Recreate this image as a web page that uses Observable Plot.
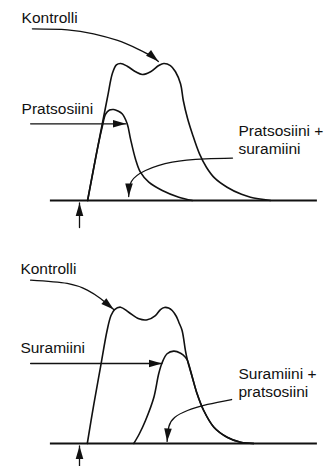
<!DOCTYPE html>
<html>
<head>
<meta charset="utf-8">
<script src="https://cdn.jsdelivr.net/npm/d3@7"></script>
<script src="https://cdn.jsdelivr.net/npm/@observablehq/plot@0.6"></script>
<style>
  body { margin: 0; background: #fff; }
  #chart svg { display: block; }
</style>
</head>
<body>
<div id="chart"></div>
<script>
// Time in arbitrary units, stimulus given at t = 0 (the small upward arrow).
// Response normalised so that the control peak equals 1.

// --- Upper panel: prazosin first ---
const topControlT = [0.27, 0.6, 0.93, 1.1, 1.23, 1.37, 1.59, 1.87, 2.09, 2.37, 2.64, 2.81, 3.03, 3.2, 3.37, 3.46, 3.6, 3.76, 4.0, 4.23, 4.5, 4.92, 5.4, 5.7, 6.37];
const topControlV = [0, 0.38, 0.75, 0.93, 0.99, 1.0, 0.98, 0.94, 0.92, 0.94, 0.985, 1.0, 0.985, 0.94, 0.85, 0.73, 0.6, 0.487, 0.34, 0.243, 0.165, 0.097, 0.045, 0.024, 0];
const topPrazosinT = [0.27, 0.6, 0.75, 0.87, 1.0, 1.14, 1.28, 1.42, 1.59, 1.7, 1.87, 2.03, 2.31, 2.76, 3.31, 3.76];
const topPrazosinV = [0, 0.38, 0.53, 0.63, 0.66, 0.664, 0.653, 0.633, 0.56, 0.45, 0.30, 0.207, 0.134, 0.073, 0.024, 0];

// --- Lower panel: suramin first ---
const bottomControlT = [0.26, 0.48, 0.7, 0.92, 1.05, 1.17, 1.37, 1.64, 1.98, 2.26, 2.53, 2.7, 2.83, 2.97, 3.09, 3.23, 3.31, 3.42, 3.53, 3.6, 3.76, 3.92, 4.14, 4.48, 4.92, 5.37, 5.81];
const bottomControlV = [0, 0.29, 0.557, 0.825, 0.934, 0.978, 0.995, 0.958, 0.91, 0.903, 0.934, 0.978, 0.993, 0.989, 0.971, 0.927, 0.885, 0.825, 0.679, 0.606, 0.484, 0.363, 0.241, 0.119, 0.046, 0.009, 0];
const bottomSuraminT = [1.81, 2.0, 2.2, 2.48, 2.64, 2.76, 2.92, 3.14, 3.37, 3.53, 3.6, 3.76, 3.92, 4.14, 4.48, 4.92, 5.37, 5.81];
const bottomSuraminV = [0, 0.073, 0.168, 0.338, 0.509, 0.593, 0.655, 0.674, 0.659, 0.63, 0.606, 0.484, 0.363, 0.241, 0.119, 0.046, 0.009, 0];

// Baseline extent (time)
const baselineT = [-0.97, 7.93];

// Pointer arrows, as [t, v] points from tail to tip
const topArrowControl = [[-1.57, 1.253], [-0.4, 1.246], [0.47, 1.217], [1.27, 1.168], [1.93, 1.107], [2.37, 1.058], [2.63, 1.015]];
const topArrowPrazosin = [[-1.63, 0.56], [1.55, 0.56]];
const topArrowCombined = [[5.1, 0.31], [4.2, 0.304], [3.09, 0.28], [2.2, 0.219], [1.73, 0.139], [1.64, 0.029]];
const topArrowStimulus = [[0, -0.197], [0, -0.018]];

const bottomArrowControl = [[-1.63, 1.192], [-0.41, 1.168], [0.26, 1.119], [0.7, 1.058], [1.14, 0.978]];
const bottomArrowSuramin = [[-1.63, 0.584], [2.75, 0.584]];
const bottomArrowCombined = [[5.07, 0.321], [4.27, 0.285], [3.6, 0.241], [3.17, 0.19], [2.98, 0.124], [2.92, 0.015]];
const bottomArrowStimulus = [[0, -0.168], [0, -0.018]];

// Labels
const topLabelText = ["Kontrolli", "Pratsosiini", "Pratsosiini +\nsuramiini"];
const topLabelT = [-1.93, -1.93, 5.3];
const topLabelV = [1.292, 0.635, 0.336];
const bottomLabelText = ["Kontrolli", "Suramiini", "Suramiini +\npratsosiini"];
const bottomLabelT = [-1.97, -1.97, 5.3];
const bottomLabelV = [1.237, 0.657, 0.343];

const INK = "#111";

// Filled, slender arrowhead used as a line marker
function arrowHead() {
  const m = d3.create("svg:marker")
    .attr("viewBox", "-13 -3.8 13 7.6")
    .attr("markerWidth", 13)
    .attr("markerHeight", 7.6)
    .attr("markerUnits", "userSpaceOnUse")
    .attr("orient", "auto")
    .attr("refX", 0)
    .attr("refY", 0)
    .attr("overflow", "visible");
  m.append("path").attr("d", "M0,0L-13,-3.8L-13,3.8Z").attr("fill", INK).attr("stroke", "none");
  return m.node();
}

function rowsFromSeries(series) {
  return series.flatMap(([name, T, V]) => T.map((t, i) => ({name, t, v: V[i]})));
}
function rowsFromArrows(arrows) {
  return arrows.flatMap(([name, pts]) => pts.map(([t, v]) => ({name, t, v})));
}
function rowsFromLabels(texts, T, V) {
  return texts.map((text, i) => ({text, t: T[i], v: V[i]}));
}

function panel({series, arrows, labels, marginTop, marginBottom, lineHeight}) {
  return Plot.plot({
    width: 324,
    height: 233,
    marginLeft: 49,
    marginRight: 5,
    marginTop,
    marginBottom,
    x: {domain: [-1, 8], axis: null},
    y: {domain: [0, 1], axis: null},
    style: {
      fontFamily: "'Liberation Sans', Arial, Helvetica, sans-serif",
      fontSize: "15px",
      color: INK,
      background: "#fff",
      overflow: "visible"
    },
    marks: [
      Plot.ruleY([0], {x1: baselineT[0], x2: baselineT[1], stroke: INK, strokeWidth: 1.8}),
      Plot.line(rowsFromSeries(series), {x: "t", y: "v", z: "name", curve: "catmull-rom", stroke: INK, strokeWidth: 1.6}),
      Plot.line(rowsFromArrows(arrows), {x: "t", y: "v", z: "name", curve: "natural", stroke: INK, strokeWidth: 1.3, markerEnd: arrowHead}),
      Plot.text(labels, {x: "t", y: "v", text: "text", textAnchor: "start", lineAnchor: "bottom", lineHeight, fill: INK, fontSize: 15.5})
    ]
  });
}

const chart = document.getElementById("chart");

chart.append(panel({
  series: [["Kontrolli", topControlT, topControlV], ["Pratsosiini", topPrazosinT, topPrazosinV]],
  arrows: [["kontrolli", topArrowControl], ["pratsosiini", topArrowPrazosin], ["yhdistelmä", topArrowCombined], ["ärsyke", topArrowStimulus]],
  labels: rowsFromLabels(topLabelText, topLabelT, topLabelV),
  marginTop: 63,
  marginBottom: 33,
  lineHeight: 1.17
}));

chart.append(panel({
  series: [["Kontrolli", bottomControlT, bottomControlV], ["Suramiini", bottomSuraminT, bottomSuraminV]],
  arrows: [["kontrolli", bottomArrowControl], ["suramiini", bottomArrowSuramin], ["yhdistelmä", bottomArrowCombined], ["ärsyke", bottomArrowStimulus]],
  labels: rowsFromLabels(bottomLabelText, bottomLabelT, bottomLabelV),
  marginTop: 73,
  marginBottom: 23,
  lineHeight: 1.1
}));
</script>
</body>
</html>
